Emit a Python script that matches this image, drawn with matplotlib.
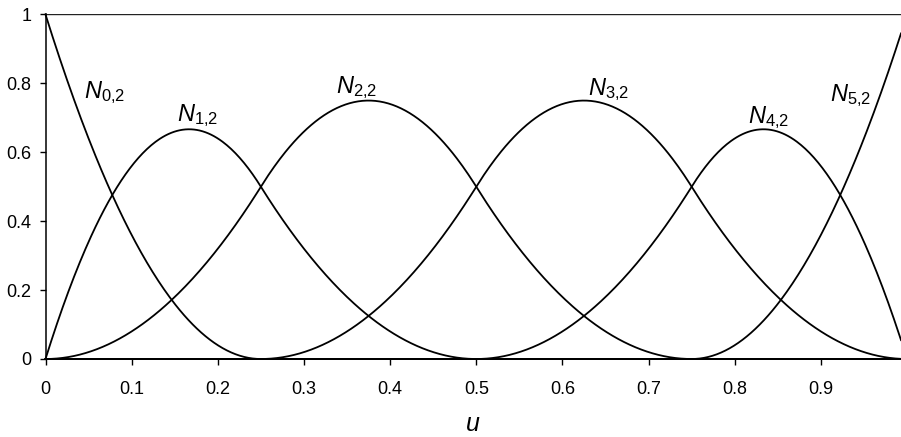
import numpy as np
import matplotlib.pyplot as plt

plt.rcParams['font.family'] = ['Liberation Sans', 'DejaVu Sans']
plt.rcParams['mathtext.fontset'] = 'custom'
plt.rcParams['mathtext.rm'] = 'Liberation Sans'
plt.rcParams['mathtext.it'] = 'Liberation Sans:italic'
plt.rcParams['mathtext.default'] = 'it'

# quadratic clamped B-spline, knot vector
knots = [0, 0, 0, 0.25, 0.5, 0.75, 1, 1, 1]
degree = 2
u_max = 0.993

names = [r'$N_{0{,}2}$', r'$N_{1{,}2}$', r'$N_{2{,}2}$',
         r'$N_{3{,}2}$', r'$N_{4{,}2}$', r'$N_{5{,}2}$']
label_u = [0.069, 0.176, 0.361, 0.654, 0.839, 0.934]
label_v = [0.774, 0.707, 0.788, 0.783, 0.701, 0.765]

xticks = [0, 0.1, 0.2, 0.3, 0.4, 0.5, 0.6, 0.7, 0.8, 0.9]
yticks = [0, 0.2, 0.4, 0.6, 0.8, 1]


def basis(i, p, t, u):
    # Cox-de Boor recursion
    if p == 0:
        return ((t[i] <= u) & (u < t[i + 1])).astype(float)
    out = np.zeros_like(u)
    if t[i + p] > t[i]:
        out += (u - t[i]) / (t[i + p] - t[i]) * basis(i, p - 1, t, u)
    if t[i + p + 1] > t[i + 1]:
        out += (t[i + p + 1] - u) / (t[i + p + 1] - t[i + 1]) * basis(i + 1, p - 1, t, u)
    return out


u = np.linspace(0, u_max, 600)
n_funcs = len(knots) - degree - 1

fig = plt.figure(figsize=(9.01, 4.37), dpi=100)
ax = fig.add_axes([0.0505, 0.1785, 0.9495, 0.7885])

for i in range(n_funcs):
    ax.plot(u, basis(i, degree, knots, u), color='black', lw=1.3,
            solid_joinstyle='round', clip_on=False)

for name, x, y in zip(names, label_u, label_v):
    ax.text(x, y, name, fontsize=17, ha='center', va='center')

ax.axhline(1, color='#222222', lw=1.0)
ax.set_xlim(0, u_max)
ax.set_ylim(0, 1)
ax.set_xticks(xticks)
ax.set_xticklabels([f'{t:g}' for t in xticks])
ax.set_yticks(yticks)
ax.set_yticklabels([f'{t:g}' for t in yticks])
ax.tick_params(labelsize=13, direction='out', length=4, width=1, pad=12)
ax.tick_params(axis='y', pad=6)
for side in ('top', 'right'):
    ax.spines[side].set_visible(False)
for side in ('left', 'bottom'):
    ax.spines[side].set_linewidth(1.1)
ax.set_xlabel('u', fontsize=18, style='italic', labelpad=10)

fig.savefig('out.png', dpi=100)
